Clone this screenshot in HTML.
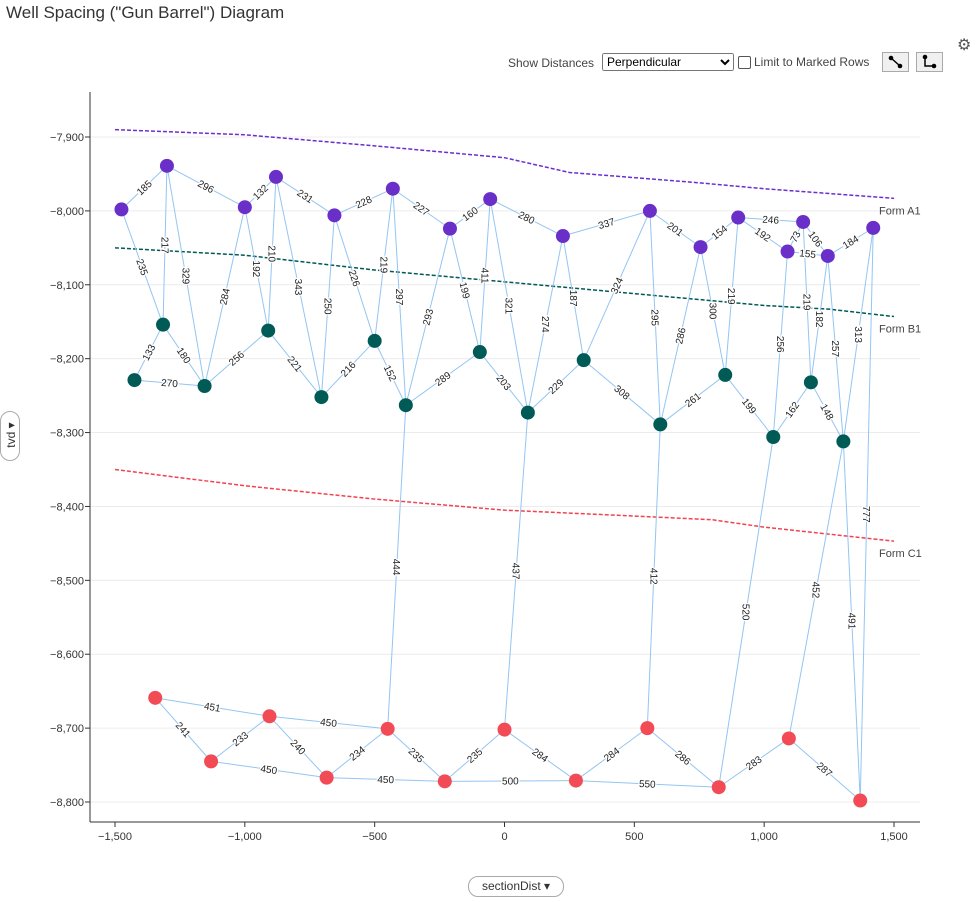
<!DOCTYPE html>
<html><head><meta charset="utf-8">
<style>
body{margin:0;width:977px;height:902px;background:#fff;font-family:"Liberation Sans",sans-serif;position:relative;overflow:hidden;color:#333}
.abs{position:absolute}
.title{left:6px;top:3px;font-size:17px;color:#333}
.ctl{font-size:12px;color:#444}
select{font-family:"Liberation Sans",sans-serif;font-size:12px}
.btn{width:27px;height:20px;border:1px solid #aaa;background:#f0f0f0;box-sizing:border-box}
.pill{border:1px solid #aaa;border-radius:10px;background:#fff;font-size:12px;color:#333}
</style></head><body>
<div class="abs title">Well Spacing ("Gun Barrel") Diagram</div>
<div class="abs ctl" style="left:508px;top:56px">Show Distances</div>
<select class="abs" style="left:602px;top:53px;width:132px;height:18px;padding:0"><option>Perpendicular</option></select>
<label class="abs ctl" style="left:738px;top:55px;display:flex;align-items:center"><span style="display:inline-block;width:11px;height:11px;border:1px solid #555;border-radius:2px;margin-right:3px"></span>Limit to Marked Rows</label>
<div class="abs btn" style="left:882px;top:52px"><svg width="25" height="18"><line x1="8" y1="5" x2="17" y2="13" stroke="#000" stroke-width="1.5"/><circle cx="8" cy="5" r="2.3"/><circle cx="17" cy="13" r="2.3"/></svg></div>
<div class="abs btn" style="left:916px;top:52px"><svg width="25" height="18"><polyline points="8,4 8,13 17,13" fill="none" stroke="#000" stroke-width="1.5"/><circle cx="8" cy="4" r="2.3"/><circle cx="17" cy="13" r="2.3"/></svg></div>
<div class="abs" style="left:957px;top:35px;font-size:16px;color:#555">⚙</div>
<div class="abs pill" style="left:0px;top:411px;width:18px;height:48px"><div style="transform:rotate(-90deg);position:absolute;left:-10px;top:16px;width:40px;text-align:center">tvd ▾</div></div>
<div class="abs pill" style="left:468px;top:876px;width:94px;height:19px;line-height:19px;text-align:center">sectionDist ▾</div>
<svg id="chart" class="abs" style="left:0;top:0" width="977" height="902"></svg>
<script>
const xTicks=[-1500,-1000,-500,0,500,1000,1500];
const xTickLabels=["−1,500","−1,000","−500","0","500","1,000","1,500"];
const yTicks=[-7900,-8000,-8100,-8200,-8300,-8400,-8500,-8600,-8700,-8800];
const yTickLabels=["−7,900","−8,000","−8,100","−8,200","−8,300","−8,400","−8,500","−8,600","−8,700","−8,800"];
const purpleX=[-1475,-1300,-1000,-880,-655,-430,-210,-55,225,560,755,900,1090,1150,1245,1420];
const purpleY=[-7998,-7939,-7995,-7954,-8006,-7970,-8024,-7984,-8034,-8000,-8049,-8009,-8055,-8015,-8061,-8023];
const tealX=[-1425,-1315,-1155,-910,-705,-500,-380,-95,90,305,600,850,1035,1180,1305];
const tealY=[-8229,-8154,-8237,-8162,-8252,-8176,-8263,-8191,-8273,-8202,-8289,-8222,-8306,-8232,-8312];
const redX=[-1345,-1130,-905,-685,-450,-230,0,275,550,825,1095,1370];
const redY=[-8659,-8745,-8684,-8767,-8701,-8772,-8702,-8771,-8700,-8780,-8714,-8798];
const formA1X=[-1500,-1000,-500,0,250,750,1000,1500];
const formA1Y=[-7890,-7897,-7912,-7928,-7948,-7962,-7970,-7983];
const formB1X=[-1500,-1000,-500,0,500,1000,1250,1500];
const formB1Y=[-8050,-8060,-8080,-8096,-8112,-8128,-8133,-8143];
const formC1X=[-1500,-1000,-500,0,500,800,1000,1500];
const formC1Y=[-8350,-8372,-8390,-8405,-8413,-8418,-8428,-8447];
const edgeFrom=["P0","P0","P1","P1","P1","P2","P2","P2","P3","P3","P3","P4","P4","P4","P5","P5","P5","P6","P6","P6","P7","P7","P7","P8","P8","P8","P9","P9","P9","P10","P10","P10","P11","P11","P11","P12","P12","P13","P12","P13","P14","P14","P14","P15","P15","T14","T0","T0","T1","T2","T3","T4","T5","T6","T7","T8","T9","T10","T11","T12","T13","T6","T8","T10","T12","T14","R0","R0","R1","R1","R2","R2","R3","R3","R4","R5","R5","R6","R7","R7","R8","R9","R10"];
const edgeTo=["P1","T1","T1","P2","T2","P3","T2","T3","T3","P4","T4","T4","P5","T5","T5","T6","P6","T6","P7","T7","T7","P8","T8","T8","T9","P9","T9","P10","T10","T10","P11","T11","P12","T11","P13","P13","P14","P14","T12","T13","T13","T14","P15","T14","R11","R11","T1","T2","T2","T3","T4","T5","T6","T7","T8","T9","T10","T11","T12","T13","T14","R4","R6","R8","R9","R10","R1","R2","R2","R3","R3","R4","R4","R5","R5","R6","R7","R7","R8","R9","R9","R10","R11"];
const edgeLabel=[185,235,217,296,329,132,284,192,210,231,343,250,228,226,219,297,227,293,160,199,411,280,321,274,187,337,324,201,295,286,154,300,192,219,246,73,155,106,256,219,182,257,184,313,777,491,133,270,180,256,221,216,152,289,203,229,308,261,199,162,148,444,437,412,520,452,241,451,233,450,240,450,234,450,235,235,500,284,284,550,286,283,287];
</script>
<script>
const NS="http://www.w3.org/2000/svg";
const svg=document.getElementById('chart');
const X0=90,X1=920,Y0=92,Y1=822;
function sx(v){return 504.5+v*0.25967;}
function sy(v){return 137+(-7900-v)*0.7389;}
function mk(t,a,p){const e=document.createElementNS(NS,t);for(const k in a)e.setAttribute(k,a[k]);(p||svg).appendChild(e);return e;}
yTicks.forEach((t,i)=>{const g=mk('line',{x1:X0,x2:X1,y1:sy(t),y2:sy(t),stroke:'#ececec'});


const tk=mk('line',{x1:X0-5,x2:X0,y1:sy(t),y2:sy(t),stroke:'#333'});


const l=mk('text',{x:X0-6,y:sy(t)+4,'text-anchor':'end','font-size':11,fill:'#333','font-family':'Liberation Sans'});l.textContent=yTickLabels[i];

});
xTicks.forEach((t,i)=>{const tk=mk('line',{x1:sx(t),x2:sx(t),y1:Y1,y2:Y1+5,stroke:'#333'});


const l=mk('text',{x:sx(t),y:Y1+18,'text-anchor':'middle','font-size':11,fill:'#333','font-family':'Liberation Sans'});l.textContent=xTickLabels[i];

});
const ya=mk('line',{x1:X0,x2:X0,y1:Y0,y2:Y1,stroke:'#333'});


const xa=mk('line',{x1:X0,x2:X1,y1:Y1,y2:Y1,stroke:'#333'});


[[formA1X,formA1Y,'#6a2fd0','Form A1'],[formB1X,formB1Y,'#005a55','Form B1'],[formC1X,formC1Y,'#f2424f','Form C1']].forEach(f=>{
const pts=f[0].map((x,i)=>sx(x)+','+sy(f[1][i])).join(' ');
const p=mk('polyline',{points:pts,fill:'none',stroke:f[2],'stroke-width':1.5,'stroke-dasharray':'4,2'});


const n=f[1].length-1;
const t=mk('text',{x:879,y:sy(f[1][n])+16,'font-size':11,fill:'#444','font-family':'Liberation Sans'});t.textContent=f[3];

});
const nodes={};
purpleX.forEach((x,i)=>nodes['P'+i]=[sx(x),sy(purpleY[i])]);
tealX.forEach((x,i)=>nodes['T'+i]=[sx(x),sy(tealY[i])]);
redX.forEach((x,i)=>nodes['R'+i]=[sx(x),sy(redY[i])]);
const eg=mk('g',{});
const lg=mk('g',{});
edgeFrom.forEach((f,i)=>{const a=nodes[f],b=nodes[edgeTo[i]];
const l=mk('line',{x1:a[0],y1:a[1],x2:b[0],y2:b[1],stroke:'#93c5f3','stroke-width':1},eg);


const mx=(a[0]+b[0])/2,my=(a[1]+b[1])/2;
let ang=Math.atan2(b[1]-a[1],b[0]-a[0])*180/Math.PI;
if(ang>90)ang-=180;if(ang<-90)ang+=180;
if(Math.abs(Math.abs(ang)-90)<12)ang=90;
const t=mk('text',{x:mx,y:my+3.5,'text-anchor':'middle','font-size':10,fill:'#222','font-family':'Liberation Sans',transform:`rotate(${ang} ${mx} ${my})`,stroke:'#fff','stroke-width':2.5,'paint-order':'stroke'},lg);
t.textContent=edgeLabel[i];

});
[['P','#6a2fc8',purpleX],['T','#005a55',tealX],['R','#f24b55',redX]].forEach(s=>{
s[2].forEach((x,i)=>{const n=nodes[s[0]+i];
const c=mk('circle',{cx:n[0],cy:n[1],r:7,fill:s[1]});

});});
</script>
</body></html>
